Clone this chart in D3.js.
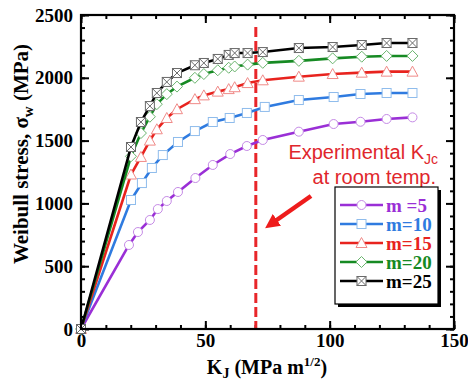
<!DOCTYPE html>
<html><head><meta charset="utf-8">
<script src="https://cdn.jsdelivr.net/npm/d3@7"></script>
<style>body{margin:0;background:#fff}svg{display:block}</style>
</head><body>
<svg id="c" width="468" height="383"></svg>
<script>
// ---- data ----
const seriesNames = ["m =5", "m=10", "m=15", "m=20", "m=25"];
const kM5  = [0, 19.3, 22.9, 27.7, 30.9, 34.5, 39, 46, 53, 60, 66.7, 73.1, 87.6, 101.6, 112.4, 122.9, 133.3];
const sM5  = [0, 669, 772, 868, 955, 1019, 1091, 1202, 1306, 1393, 1457, 1505, 1571, 1632, 1650, 1672, 1685];
const kM10 = [0, 20.1, 24.5, 28.5, 32.9, 39, 45.8, 53, 59.8, 66.7, 73.9, 87.6, 101.6, 112.4, 122.9, 133.3];
const sM10 = [0, 1027, 1162, 1282, 1385, 1489, 1576, 1648, 1680, 1720, 1768, 1823, 1847, 1871, 1879, 1879];
const kM15 = [0, 20.1, 24.1, 27.7, 30.5, 34.5, 38.6, 45.8, 49.4, 55, 59.4, 61.8, 67, 73.1, 87.6, 101.2, 112.9, 122.9, 133.3];
const sM15 = [0, 1230, 1370, 1500, 1590, 1680, 1750, 1830, 1860, 1890, 1910, 1925, 1958, 1980, 2009, 2030, 2041, 2049, 2049];
const kM20 = [0, 20.1, 24.1, 27.7, 30.5, 34.5, 38.6, 45.8, 49.4, 55, 59.4, 61.8, 67, 73.1, 87.6, 101.2, 112.9, 122.9, 133.3];
const sM20 = [0, 1375, 1560, 1690, 1790, 1870, 1930, 2000, 2030, 2060, 2080, 2090, 2105, 2119, 2135, 2155, 2168, 2174, 2174];
const kM25 = [0, 20.1, 24.1, 27.7, 30.5, 34.5, 38.6, 45.8, 49.4, 55, 59.4, 61.8, 67, 73.1, 87.6, 101.2, 112.9, 122.9, 133.3];
const sM25 = [0, 1449, 1648, 1775, 1879, 1967, 2038, 2100, 2118, 2150, 2182, 2197, 2197, 2205, 2237, 2245, 2261, 2277, 2277];
const xTicks = [0, 50, 100, 150];
const yTicks = [0, 500, 1000, 1500, 2000, 2500];
const kJcRoom = 70.3;

const seriesK = [kM5, kM10, kM15, kM20, kM25];
const seriesS = [sM5, sM10, sM15, sM20, sM25];
const lineColors = ["#9a2fd6", "#2f7be0", "#e8231e", "#168a23", "#000000"];
const markColors = ["#c58ae6", "#8fbcec", "#f08a88", "#6ab46e", "#6a6a6a"];
const markTypes = ["circle", "square", "triangle", "diamond", "xsquare"];

// ---- layout ----
const svg = d3.select("#c");
const x = d3.scaleLinear().domain([0, 150]).range([81, 454]);
const y = d3.scaleLinear().domain([0, 2500]).range([329, 15]);
const serif = "'Liberation Serif','Times New Roman',serif";
const sans = "'Liberation Sans',Arial,sans-serif";

function styleAxis(g){ g.select(".domain").remove(); g.selectAll("line").attr("stroke","#000").attr("stroke-width",2); }
const minorX = d3.range(0, 151, 10), minorY = d3.range(0, 2501, 100);
svg.append("g").attr("transform","translate(0,329)").call(d3.axisBottom(x).tickValues(minorX).tickSize(-4).tickFormat("")).call(styleAxis);
svg.append("g").attr("transform","translate(0,15)").call(d3.axisTop(x).tickValues(minorX).tickSize(-4).tickFormat("")).call(styleAxis);
svg.append("g").attr("transform","translate(81,0)").call(d3.axisLeft(y).tickValues(minorY).tickSize(-4).tickFormat("")).call(styleAxis);
svg.append("g").attr("transform","translate(454,0)").call(d3.axisRight(y).tickValues(minorY).tickSize(-4).tickFormat("")).call(styleAxis);
svg.append("g").attr("transform","translate(0,15)").call(d3.axisTop(x).tickValues(xTicks).tickSize(-8).tickFormat("")).call(styleAxis);
svg.append("g").attr("transform","translate(454,0)").call(d3.axisRight(y).tickValues(yTicks).tickSize(-8).tickFormat("")).call(styleAxis);
const gx = svg.append("g").attr("transform","translate(0,329)").call(d3.axisBottom(x).tickValues(xTicks).tickSize(-8).tickPadding(5).tickFormat(d3.format("d"))).call(styleAxis);
gx.selectAll("text").attr("font-family",serif).attr("font-weight","bold").attr("font-size",19).attr("fill","#000").attr("dy","0.71em");
const gy = svg.append("g").attr("transform","translate(81,0)").call(d3.axisLeft(y).tickValues(yTicks).tickSize(-8).tickPadding(8).tickFormat(d3.format("d"))).call(styleAxis);
gy.selectAll("text").attr("font-family",serif).attr("font-weight","bold").attr("font-size",19).attr("fill","#000");

// vertical dashed line (experimental KJc)
svg.append("line").attr("x1",x(kJcRoom)).attr("x2",x(kJcRoom)).attr("y1",27).attr("y2",329)
  .attr("stroke","#e8262a").attr("stroke-width",3).attr("stroke-dasharray","10,4");

// series
const line = d3.line().x(d=>x(d[0])).y(d=>y(d[1]));
function drawMarker(g, type, cx, cy, color){
  const m = g.append("g").attr("transform",`translate(${cx},${cy})`);
  let el;
  if(type==="circle") el = m.append("circle").attr("r",4.5);
  else if(type==="square" || type==="xsquare") el = m.append("rect").attr("x",-4.5).attr("y",-4.5).attr("width",9).attr("height",9);
  else if(type==="triangle") el = m.append("path").attr("d","M0,-5.5L5.5,4.5L-5.5,4.5Z");
  else if(type==="diamond") el = m.append("path").attr("d","M0,-5.5L5.5,0L0,5.5L-5.5,0Z");
  el.attr("fill","#fff").attr("stroke",color).attr("stroke-width",1);
  if(type==="xsquare") m.append("path").attr("d","M-4.5,-4.5L4.5,4.5M4.5,-4.5L-4.5,4.5").attr("stroke",color).attr("stroke-width",1);
}
seriesNames.forEach((name,i)=>{
  const pts = seriesK[i].map((k,j)=>[k, seriesS[i][j]]);
  const g = svg.append("g");
  g.append("path").attr("d",line(pts)).attr("fill","none").attr("stroke",lineColors[i]).attr("stroke-width",2.6);
  pts.forEach(p=>drawMarker(g, markTypes[i], x(p[0]), y(p[1]), markColors[i]));
});

// frame
svg.append("rect").attr("x",81).attr("y",15).attr("width",373).attr("height",314).attr("fill","none").attr("stroke","#000").attr("stroke-width",2.2);

// annotation text
const ann = svg.append("g").attr("font-family",sans).attr("font-size",20).attr("fill","#e0262c").attr("text-anchor","end");
const t1 = ann.append("text").attr("x",438).attr("y",159);
t1.append("tspan").text("Experimental  K");
t1.append("tspan").attr("font-size",14).attr("dy",5).text("Jc");
ann.append("text").attr("x",436).attr("y",184).text("at room temp.");

// arrow
svg.append("defs").append("marker").attr("id","ah").attr("viewBox","0 0 10 10").attr("refX",5).attr("refY",5)
  .attr("markerWidth",3.2).attr("markerHeight",3.2).attr("orient","auto")
  .append("path").attr("d","M0,0L10,5L0,10Z").attr("fill","#ee1c1c");
svg.append("line").attr("x1",311).attr("y1",196).attr("x2",271).attr("y2",224)
  .attr("stroke","#ee1c1c").attr("stroke-width",4.5).attr("marker-end","url(#ah)");

// legend
const lg = svg.append("g");
lg.append("rect").attr("x",338).attr("y",190).attr("width",103).attr("height",117).attr("fill","#000");
lg.append("rect").attr("x",335).attr("y",187).attr("width",103).attr("height",117).attr("fill","#fff").attr("stroke","#000").attr("stroke-width",1.2);
seriesNames.forEach((name,i)=>{
  const yy = 205 + i*19;
  lg.append("line").attr("x1",340).attr("x2",383).attr("y1",yy).attr("y2",yy).attr("stroke",lineColors[i]).attr("stroke-width",2.6);
  drawMarker(lg, markTypes[i], 361.5, yy, markColors[i]);
  lg.append("text").attr("x",386).attr("y",yy).attr("dy","0.35em").attr("font-family",serif).attr("font-weight","bold")
    .attr("font-size",19).attr("fill",lineColors[i]).text(name);
});

// axis titles
const xt = svg.append("text").attr("x",267).attr("y",374).attr("text-anchor","middle").attr("font-family",serif).attr("font-weight","bold").attr("font-size",20);
xt.append("tspan").text("K");
xt.append("tspan").attr("font-size",14).attr("dy",4).text("J");
xt.append("tspan").attr("dy",-4).text(" (MPa m");
xt.append("tspan").attr("font-size",13).attr("dy",-8).text("1/2");
xt.append("tspan").attr("dy",8).text(")");

const yt = svg.append("text").attr("transform","translate(28,154) rotate(-90)").attr("text-anchor","middle").attr("font-family",serif).attr("font-weight","bold").attr("font-size",21);
yt.append("tspan").text("Weibull stress, σ");
yt.append("tspan").attr("font-size",15).attr("dy",5).text("w");
yt.append("tspan").attr("dy",-5).text(" (MPa)");
</script>
</body></html>
